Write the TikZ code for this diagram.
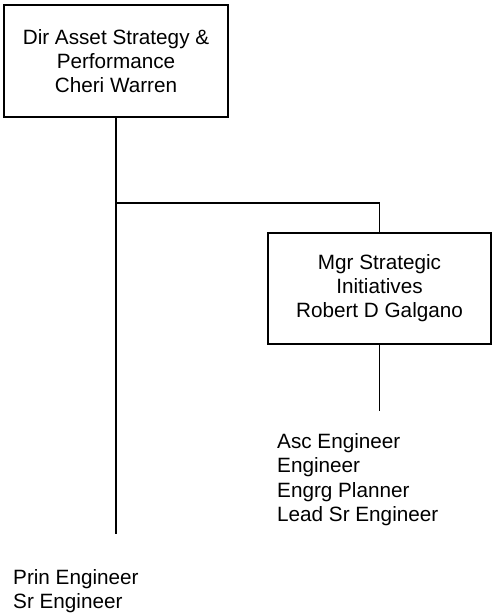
\documentclass[tikz,border=0pt]{standalone}
\usepackage{fontspec}
\setmainfont{Liberation Sans}
\begin{document}
\begin{tikzpicture}[x=1pt,y=-1pt,line cap=rect,
    posbox/.style={draw, line width=1.8pt, align=center, inner sep=0pt,
        font={\fontsize{20.7}{24}\selectfont}},
    staff/.style={align=left, inner sep=0pt, anchor=north west,
        font={\fontsize{20.7}{24.5}\selectfont}},
    link/.style={line width=1.8pt}]
    \useasboundingbox (0,0) rectangle (493,615);

    % director
    \node[posbox, minimum width=224, minimum height=112] (dir) at (116, 61)
        {Dir Asset Strategy \&\\Performance\\Cheri Warren};

    % manager
    \node[posbox, minimum width=223, minimum height=111] (mgr) at (379.5, 288.5)
        {Mgr Strategic\\Initiatives\\Robert D Galgano};

    \coordinate (fork) at (116, 203);
    \coordinate (dirend) at (116, 533);
    \coordinate (mgrend) at (379.5, 410);

    \draw[link] (dir.south) -- (dirend);
    \draw[link] (fork) -| (mgr.north);
    \draw[link] (mgr.south) -- (mgrend);

    % staff lists
    \node[staff] (mgrstaff) at (277, 433)
        {Asc Engineer\\Engineer\\Engrg Planner\\Lead Sr Engineer};
    \node[staff] (dirstaff) at (13, 569)
        {Prin Engineer\\Sr Engineer};
\end{tikzpicture}
\end{document}
